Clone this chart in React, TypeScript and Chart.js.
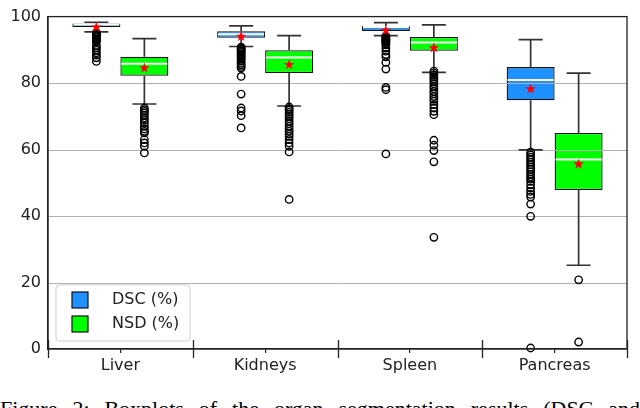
import React, { useEffect, useRef } from "react";
import { Chart, registerables } from "chart.js";

Chart.register(...registerables);

const categories = ["Liver", "Kidneys", "Spleen", "Pancreas"];
const seriesLabels = ["DSC (%)", "NSD (%)"];
const seriesColors = ["#1e90ff", "#00ff00"];
const yTicks = [0, 20, 40, 60, 80, 100];
const captionText = "Figure 2: Boxplots of the organ segmentation results (DSC and";

// DSC
const dscLow = [95.4, 91.0, 94.3, 59.9];
const dscQ1 = [96.9, 93.6, 95.7, 74.8];
const dscMedian = [97.6, 94.7, 96.9, 80.9];
const dscQ3 = [97.9, 95.6, 97.2, 84.8];
const dscHigh = [98.3, 97.2, 98.2, 93.1];
const dscMean = [96.8, 94.0, 95.8, 78.2];
const dscOutLiver = [95.2, 95.0, 94.8, 94.6, 94.4, 94.2, 94.0, 93.7, 93.4, 93.1, 92.8, 92.4, 91.3, 90.6, 89.9, 89.1, 88.4, 87.6, 86.5];
const dscOutKidneys = [90.8, 90.5, 90.2, 89.9, 89.6, 89.2, 88.8, 88.4, 88.0, 87.6, 87.2, 86.6, 86.0, 85.5, 85.0, 84.5, 82.0, 76.7, 72.5, 71.6, 70.2, 66.5];
const dscOutSpleen = [94.1, 93.8, 93.5, 93.2, 92.9, 92.6, 92.3, 92.0, 91.5, 90.6, 89.6, 88.6, 87.9, 86.2, 84.2, 78.7, 78.0, 58.7];
const dscOutPancreas = [59.2, 58.4, 57.7, 56.9, 56.2, 55.4, 54.7, 54.0, 53.3, 52.5, 51.8, 51.1, 50.4, 49.4, 48.4, 47.4, 46.5, 45.7, 43.6, 39.9, 0.3];

// NSD
const nsdLow = [73.7, 73.1, 83.2, 25.2];
const nsdQ1 = [82.2, 83.0, 89.7, 47.8];
const nsdMedian = [85.8, 87.7, 92.2, 57.0];
const nsdQ3 = [87.9, 89.9, 93.9, 65.0];
const nsdHigh = [93.4, 94.3, 97.5, 83.0];
const nsdMean = [84.5, 85.5, 90.6, 55.6];
const nsdOutLiver = [72.5, 72.0, 71.5, 71.0, 70.3, 69.5, 68.8, 68.0, 67.0, 66.2, 65.5, 65.0, 63.0, 62.0, 61.0, 59.0];
const nsdOutKidneys = [72.8, 72.3, 71.8, 71.2, 70.6, 70.0, 69.3, 68.5, 67.8, 67.0, 66.2, 65.5, 64.7, 64.0, 63.0, 62.0, 61.0, 59.3, 45.0];
const nsdOutSpleen = [83.6, 83.0, 82.4, 81.8, 81.2, 80.5, 79.8, 79.0, 78.3, 77.5, 76.8, 76.0, 75.2, 74.5, 73.5, 72.5, 71.5, 70.5, 62.8, 61.3, 59.7, 56.3, 33.6];
const nsdOutPancreas = [20.8, 2.1];

const stats = [
  { low: dscLow, q1: dscQ1, med: dscMedian, q3: dscQ3, high: dscHigh, mean: dscMean, out: [dscOutLiver, dscOutKidneys, dscOutSpleen, dscOutPancreas] },
  { low: nsdLow, q1: nsdQ1, med: nsdMedian, q3: nsdQ3, high: nsdHigh, mean: nsdMean, out: [nsdOutLiver, nsdOutKidneys, nsdOutSpleen, nsdOutPancreas] },
];

const FONT = "'DejaVu Sans', sans-serif";

function drawStar(ctx: CanvasRenderingContext2D, cx: number, cy: number, R: number, r: number) {
  ctx.beginPath();
  for (let k = 0; k < 10; k++) {
    const rad = k % 2 === 0 ? R : r;
    const a = -Math.PI / 2 + (k * Math.PI) / 5;
    const px = cx + rad * Math.cos(a);
    const py = cy + rad * Math.sin(a);
    if (k === 0) ctx.moveTo(px, py);
    else ctx.lineTo(px, py);
  }
  ctx.closePath();
  ctx.fill();
}

const boxPlugin = {
  id: "boxExtras",
  afterDatasetsDraw(chart: any) {
    const ctx: CanvasRenderingContext2D = chart.ctx;
    const area = chart.chartArea;
    const y = chart.scales.y;
    const x = chart.scales.x;
    ctx.save();

    // grid lines (drawn over boxes, as in reference)
    ctx.strokeStyle = "#b0b0b0";
    ctx.lineWidth = 1;
    yTicks.forEach((t) => {
      if (t === yTicks[0] || t === yTicks[yTicks.length - 1]) return;
      const py = Math.round(y.getPixelForValue(t)) + 0.5;
      ctx.beginPath();
      ctx.moveTo(area.left, py);
      ctx.lineTo(area.right, py);
      ctx.stroke();
    });

    stats.forEach((s, di) => {
      const meta = chart.getDatasetMeta(di);
      meta.data.forEach((el: any, j: number) => {
        const cx = el.x;
        const w = el.width;
        const pLow = y.getPixelForValue(s.low[j]);
        const pHigh = y.getPixelForValue(s.high[j]);
        const pQ1 = y.getPixelForValue(s.q1[j]);
        const pQ3 = y.getPixelForValue(s.q3[j]);
        // whiskers
        ctx.strokeStyle = "#333333";
        ctx.lineWidth = 1.7;
        ctx.beginPath();
        ctx.moveTo(cx, pQ3);
        ctx.lineTo(cx, pHigh);
        ctx.moveTo(cx, pQ1);
        ctx.lineTo(cx, pLow);
        // caps
        ctx.moveTo(cx - w / 4, pHigh);
        ctx.lineTo(cx + w / 4, pHigh);
        ctx.moveTo(cx - w / 4, pLow);
        ctx.lineTo(cx + w / 4, pLow);
        ctx.stroke();
        // median
        const pMed = y.getPixelForValue(s.med[j]);
        ctx.strokeStyle = "#ffffff";
        ctx.lineWidth = 2;
        ctx.beginPath();
        ctx.moveTo(cx - w / 2 + 1, pMed);
        ctx.lineTo(cx + w / 2 - 1, pMed);
        ctx.stroke();
        // outliers
        ctx.strokeStyle = "#000000";
        ctx.lineWidth = 1.4;
        s.out[j].forEach((v: number) => {
          ctx.beginPath();
          ctx.arc(cx, y.getPixelForValue(v), 3.7, 0, Math.PI * 2);
          ctx.stroke();
        });
        // mean star
        ctx.fillStyle = "#ff0000";
        drawStar(ctx, cx, y.getPixelForValue(s.mean[j]), 5.5, 2.3);
      });
    });

    // frame
    ctx.strokeStyle = "#222222";
    ctx.lineWidth = 1.3;
    ctx.strokeRect(area.left, area.top, area.right - area.left, area.bottom - area.top);

    // category boundary ticks
    const n = categories.length;
    const bounds: number[] = [area.left];
    for (let j = 0; j < n - 1; j++) {
      bounds.push((x.getPixelForValue(j) + x.getPixelForValue(j + 1)) / 2);
    }
    bounds.push(area.right);
    ctx.beginPath();
    bounds.forEach((bx) => {
      const px = Math.round(bx) + 0.5;
      ctx.moveTo(px, area.bottom - 9);
      ctx.lineTo(px, area.bottom + 9);
    });
    ctx.stroke();

    // legend
    const lx = area.left + 8;
    const lh = 56;
    const lw = 134;
    const ly = area.bottom - 8 - lh;
    ctx.beginPath();
    const rr = 3;
    ctx.moveTo(lx + rr, ly);
    ctx.lineTo(lx + lw - rr, ly);
    ctx.quadraticCurveTo(lx + lw, ly, lx + lw, ly + rr);
    ctx.lineTo(lx + lw, ly + lh - rr);
    ctx.quadraticCurveTo(lx + lw, ly + lh, lx + lw - rr, ly + lh);
    ctx.lineTo(lx + rr, ly + lh);
    ctx.quadraticCurveTo(lx, ly + lh, lx, ly + lh - rr);
    ctx.lineTo(lx, ly + rr);
    ctx.quadraticCurveTo(lx, ly, lx + rr, ly);
    ctx.closePath();
    ctx.fillStyle = "rgba(255,255,255,0.8)";
    ctx.fill();
    ctx.strokeStyle = "#d0d0d0";
    ctx.lineWidth = 1;
    ctx.stroke();
    seriesLabels.forEach((lab, i) => {
      const rowY = ly + 15 + i * 24;
      ctx.fillStyle = seriesColors[i];
      ctx.fillRect(lx + 16, rowY - 8, 16, 16);
      ctx.strokeStyle = "#111111";
      ctx.lineWidth = 1.2;
      ctx.strokeRect(lx + 16, rowY - 8, 16, 16);
      ctx.fillStyle = "#222222";
      ctx.font = `16px ${FONT}`;
      ctx.textBaseline = "middle";
      ctx.textAlign = "left";
      ctx.fillText(lab, lx + 56, rowY);
    });

    ctx.restore();
  },
};

export default function App() {
  const ref = useRef<HTMLCanvasElement | null>(null);

  useEffect(() => {
    if (!ref.current) return;
    const chart = new Chart(ref.current, {
      type: "bar",
      data: {
        labels: categories,
        datasets: stats.map((s, i) => ({
          label: seriesLabels[i],
          data: categories.map((_, j) => [s.q1[j], s.q3[j]] as [number, number]),
          backgroundColor: seriesColors[i],
          borderColor: "#111111",
          borderWidth: 1.3,
          borderSkipped: false,
          categoryPercentage: 0.663,
          barPercentage: 1,
        })),
      },
      options: {
        animation: false,
        responsive: false,
        devicePixelRatio: 1,
        layout: { padding: { left: 0, right: 13, top: 7, bottom: 0 } },
        plugins: {
          legend: { display: false },
          tooltip: { enabled: false },
        },
        scales: {
          x: {
            type: "category",
            offset: true,
            grid: {
              display: true,
              drawOnChartArea: false,
              offset: false,
              tickLength: 4,
              color: "#222222",
              lineWidth: 1.2,
            },
            border: { display: true, color: "#222222", width: 1.3 },
            ticks: { color: "#222222", font: { family: FONT, size: 16 }, padding: 3 },
            afterFit: (s: any) => {
              s.height = 31;
            },
          },
          y: {
            min: 0,
            max: 100,
            afterBuildTicks: (s: any) => {
              s.ticks = yTicks.map((v) => ({ value: v }));
            },
            grid: { display: false, drawTicks: false, tickLength: 0 },
            border: { display: true, color: "#222222", width: 1.3 },
            ticks: { color: "#222222", font: { family: FONT, size: 16 }, padding: 7 },
            afterFit: (s: any) => {
              s.width = 48;
            },
          },
        },
      },
      plugins: [boxPlugin],
    });
    return () => chart.destroy();
  }, []);

  return (
    <div
      style={{
        position: "fixed",
        left: 0,
        top: 0,
        width: 640,
        height: 408,
        background: "#ffffff",
        overflow: "hidden",
      }}
    >
      <canvas ref={ref} width={640} height={380} style={{ position: "absolute", left: 0, top: 0, width: 640, height: 380 }} />
      <div
        style={{
          position: "absolute",
          left: 0,
          top: 396,
          width: 640,
          fontFamily: "'Liberation Serif', 'Times New Roman', serif",
          fontSize: 22,
          color: "#000000",
          textAlign: "justify",
          textAlignLast: "justify" as any,
          whiteSpace: "normal",
          lineHeight: "normal",
        }}
      >
        {captionText}
      </div>
    </div>
  );
}
